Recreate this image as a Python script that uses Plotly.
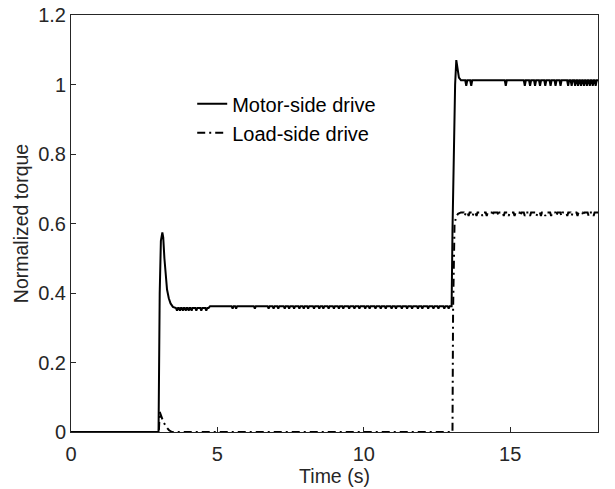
import plotly.graph_objects as go

# ---- data ----
# Motor-side drive: transient segments
motor_t1 = [0.0, 2.99, 3.03, 3.07, 3.12, 3.15, 3.19, 3.23, 3.28, 3.34, 3.40, 3.48, 3.58]
motor_y1 = [0.0, 0.0, 0.40, 0.55, 0.574, 0.56, 0.50, 0.45, 0.41, 0.385, 0.37, 0.36, 0.357]
motor_lvl1 = 0.357          # 3.58 .. 4.70
motor_lvl1_end = 4.70
motor_dip1 = 0.349
motor_dips1 = [3.62, 3.72, 3.82, 3.92, 4.02, 4.12, 4.28, 4.45, 4.62]

motor_lvl2 = 0.362          # 4.75 .. 13.0
motor_lvl2_start = 4.75
motor_lvl2_end = 13.0
motor_dip2 = 0.355
motor_dips2 = [5.52, 5.64, 6.28, 6.75, 6.92, 7.08, 7.3, 7.45, 7.62, 7.8, 7.95, 8.1,
               8.3, 8.48, 8.62, 8.8, 8.98, 9.15, 9.3, 9.5, 9.68, 9.85, 10.05, 10.2,
               10.4, 10.58, 10.75, 10.95, 11.1, 11.3, 11.48, 11.65, 11.85, 12.0,
               12.2, 12.38, 12.55, 12.75, 12.9]

motor_t2 = [13.0, 13.03, 13.08, 13.12, 13.16, 13.20, 13.25, 13.32]
motor_y2 = [0.362, 0.58, 0.85, 1.00, 1.07, 1.05, 1.02, 1.012]
motor_lvl3 = 1.012          # 13.32 .. 18
motor_dip3 = 0.996
motor_dips3 = [13.5, 13.67, 14.85, 15.5, 15.68, 15.85, 16.02, 16.2, 16.38, 16.55,
               16.72, 16.98, 17.1, 17.22, 17.32, 17.42, 17.52, 17.62, 17.72, 17.82,
               17.92]

# Load-side drive
load_t1 = [0.0, 3.0, 3.03, 3.08, 3.15, 3.25, 3.35, 3.45, 13.03, 13.05, 13.10, 13.16, 13.22, 13.32]
load_y1 = [0.0, 0.0, 0.058, 0.045, 0.03, 0.015, 0.005, 0.0, 0.0, 0.35, 0.60, 0.62, 0.628, 0.632]
load_lvl = 0.632            # 13.32 .. 18
load_dip = 0.622
load_dips = [13.45, 13.58, 13.72, 13.85, 14.05, 14.2, 14.4, 14.6, 14.78, 14.95, 15.15,
             15.35, 15.5, 15.68, 15.9, 16.05, 16.2, 16.4, 16.58, 16.75, 16.95,
             17.1, 17.3, 17.5, 17.68, 17.85]
t_end = 18.0

x_ticks = [0, 5, 10, 15]
y_ticks = [0, 0.2, 0.4, 0.6, 0.8, 1.0, 1.2]
y_tick_text = ["0", "0.2", "0.4", "0.6", "0.8", "1", "1.2"]


def flat_with_dips(t0, t1, level, dips, dip_level, hw=0.035):
    ts, ys = [t0], [level]
    for d in dips:
        ts += [d - hw, d, d + hw]
        ys += [level, dip_level, level]
    ts.append(t1)
    ys.append(level)
    return ts, ys


mt, my = list(motor_t1), list(motor_y1)
a, b = flat_with_dips(motor_t1[-1], motor_lvl1_end, motor_lvl1, motor_dips1, motor_dip1)
mt += a[1:]; my += b[1:]
a, b = flat_with_dips(motor_lvl2_start, motor_lvl2_end, motor_lvl2, motor_dips2, motor_dip2)
mt += a; my += b
mt += motor_t2[1:]; my += motor_y2[1:]
a, b = flat_with_dips(motor_t2[-1], t_end, motor_lvl3, motor_dips3, motor_dip3)
mt += a[1:]; my += b[1:]

lt, ly = list(load_t1), list(load_y1)
a, b = flat_with_dips(load_t1[-1], t_end, load_lvl, load_dips, load_dip)
lt += a[1:]; ly += b[1:]

FONT = "Liberation Sans, Arial, Helvetica, sans-serif"
AX = "#262626"

fig = go.Figure()
fig.add_trace(go.Scatter(x=mt, y=my, mode="lines", name="Motor-side drive",
                         line=dict(color="black", width=2)))
fig.add_trace(go.Scatter(x=lt, y=ly, mode="lines", name="Load-side drive",
                         line=dict(color="black", width=2, dash="8px,4px,2px,4px")))

fig.update_layout(
    width=615, height=489,
    margin=dict(l=71, r=17, t=15, b=57),
    paper_bgcolor="white", plot_bgcolor="white",
    font=dict(family=FONT, size=20, color=AX),
    showlegend=True,
    legend=dict(x=0.23, y=0.834, xanchor="left", yanchor="top",
                bgcolor="rgba(0,0,0,0)", borderwidth=0, tracegroupgap=0,
                font=dict(family=FONT, size=20, color="black")),
    xaxis=dict(range=[0, 18], tickvals=x_ticks, ticks="inside", ticklen=5,
               showline=True, mirror=True, linecolor=AX, linewidth=1,
               showgrid=False, zeroline=False, tickcolor=AX, automargin=False,
               ticklabelstandoff=4,
               title=dict(text="Time (s)", font=dict(size=19.5, color=AX), standoff=0)),
    yaxis=dict(range=[0, 1.2], tickvals=y_ticks, ticktext=y_tick_text,
               ticks="inside", ticklen=5,
               showline=True, mirror=True, linecolor=AX, linewidth=1,
               showgrid=False, zeroline=False, tickcolor=AX, automargin=False,
               title=dict(text="Normalized torque", font=dict(size=19.5, color=AX), standoff=4)),
)

fig.write_html("out.html")
